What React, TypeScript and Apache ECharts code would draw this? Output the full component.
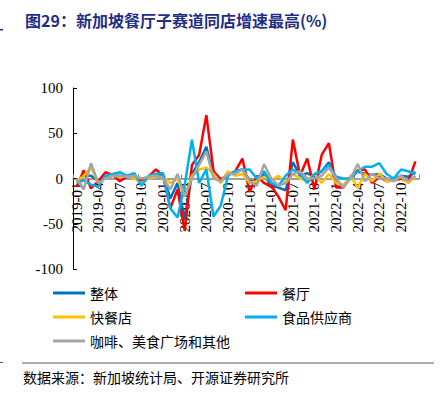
import React, { useEffect, useRef } from "react";
import * as echarts from "echarts";

const months = [
  "2019-01","2019-02","2019-03","2019-04","2019-05","2019-06","2019-07","2019-08","2019-09","2019-10","2019-11","2019-12",
  "2020-01","2020-02","2020-03","2020-04","2020-05","2020-06","2020-07","2020-08","2020-09","2020-10","2020-11","2020-12",
  "2021-01","2021-02","2021-03","2021-04","2021-05","2021-06","2021-07","2021-08","2021-09","2021-10","2021-11","2021-12",
  "2022-01","2022-02","2022-03","2022-04","2022-05","2022-06","2022-07","2022-08","2022-09","2022-10","2022-11","2022-12",
];

const overall = [-3, 3, 3, -3, 2, 3, 3, 2, 3, -2, 2, 4, 3, -22, -5, -45, 5, 18, 35, 3, -3, 4, 8, 10, -2, -5, 5, -8, -10, -13, 18, 3, 6, 2, 8, 18, -3, -8, 2, 8, 5, 4, 5, 0, -2, 3, 2, 7];
const restaurant = [-9, 9, -11, -3, 7, 4, -3, 2, 3, -3, 2, 10, 3, -33, -12, -58, 15, 26, 70, 8, -1, 4, 8, 22, -15, 3, -5, -8, -20, -35, 43, 3, 22, -12, 26, 39, -10, -10, 2, 9, 10, -5, 2, -3, -2, 0, -4, 19];
const fastFood = [-3, 3, 12, -5, 0, 3, 2, 3, 0, -5, 0, 2, 2, -5, 0, -20, 3, 10, 12, 5, -5, 8, 3, 5, -5, -3, 2, -2, 3, -5, 5, 0, -3, 5, -5, 5, -5, -8, 3, -10, 5, -3, 5, -3, -2, 2, -5, 2];
const foodCaterer = [-5, -2, -7, -9, 3, 5, 7, 3, 6, -8, 3, 5, 6, -33, -43, -7, 43, -5, 10, -42, -30, 3, 8, 10, 10, 0, 8, -5, -8, 3, 10, 5, -5, 5, 8, 15, 2, 0, 0, 8, 13, 13, 17, 5, 0, 10, 8, 5];
const cafeOthers = [0, -12, 17, -5, 0, 3, 3, 2, 3, 0, 2, 3, 0, -12, 5, -20, 0, 15, 30, 0, -3, 5, 5, 10, -3, -8, 16, 0, -8, -5, 5, 8, 0, 0, 3, 12, 0, -10, 0, 16, -3, 5, 0, 0, -3, 3, -3, 3];

const seriesNames = ["整体", "餐厅", "快餐店", "食品供应商", "咖啡、美食广场和其他"];
const seriesColors = ["#0070C0", "#FF0000", "#FFC000", "#00B0F0", "#A5A5A5"];
const seriesData = [overall, restaurant, fastFood, foodCaterer, cafeOthers];

const yTicks = { min: -100, max: 100, interval: 50 };

const title = "图29：新加坡餐厅子赛道同店增速最高(%)";
const source = "数据来源：新加坡统计局、开源证券研究所";

const serif = "'Liberation Serif', 'Times New Roman', serif";
const cjk = "'Noto Sans CJK SC', 'Liberation Serif', sans-serif";

const GRID_TOP = 88;
const GRID_BOTTOM = 127;
const GRID_H = 396 - GRID_TOP - GRID_BOTTOM;

export default function App() {
  const ref = useRef<HTMLDivElement>(null);
  useEffect(() => {
    if (!ref.current) return;
    const chart = echarts.init(ref.current, undefined, { renderer: "svg" });
    const legendCommon = {
      orient: "vertical" as const,
      icon: "rect",
      itemWidth: 32,
      itemHeight: 3,
      itemGap: 10,
      textStyle: { fontFamily: cjk, fontSize: 14, color: "#000", lineHeight: 14 },
    };
    chart.setOption({
      animation: false,
      backgroundColor: "#fff",
      grid: { left: 73, right: 26, top: GRID_TOP, bottom: GRID_BOTTOM, containLabel: false },
      legend: [
        { ...legendCommon, left: 48, top: 281, data: [seriesNames[0], seriesNames[2], seriesNames[4]] },
        { ...legendCommon, left: 240, top: 281, data: [seriesNames[1], seriesNames[3]] },
      ],
      xAxis: {
        type: "category",
        data: months,
        boundaryGap: true,
        offset: -GRID_H * (yTicks.max / (yTicks.max - yTicks.min)),
        axisLine: { onZero: false, lineStyle: { color: "#808080", width: 1.5 } },
        axisTick: { show: true, inside: true, length: 4, interval: 2, lineStyle: { color: "#808080" } },
        axisLabel: {
          interval: 2,
          rotate: 90,
          fontFamily: serif,
          fontSize: 15,
          color: "#000",
          margin: 4,
        },
        splitLine: { show: false },
      },
      yAxis: {
        type: "value",
        min: yTicks.min,
        max: yTicks.max,
        interval: yTicks.interval,
        axisLine: { show: true, lineStyle: { color: "#000", width: 1 } },
        axisTick: { show: true, inside: true, length: 4, lineStyle: { color: "#000" } },
        axisLabel: { fontFamily: serif, fontSize: 15, color: "#000", margin: 10 },
        splitLine: { show: false },
      },
      series: seriesNames.map((name, i) => ({
        name,
        type: "line",
        data: seriesData[i],
        symbol: "none",
        lineStyle: { color: seriesColors[i], width: 2.5 },
        itemStyle: { color: seriesColors[i] },
      })),
      graphic: [
        {
          type: "text",
          left: 25,
          top: 12,
          style: { text: title, fontFamily: cjk, fontSize: 16, fontWeight: "bold", fill: "#1F2D86" },
        },
        { type: "rect", shape: { x: 0, y: 29, width: 3, height: 1.5 }, style: { fill: "#1F2D86" } },
        { type: "line", shape: { x1: 22, y1: 363, x2: 434, y2: 363 }, style: { stroke: "#595959", lineWidth: 1 } },
        { type: "rect", shape: { x: 0, y: 362, width: 3, height: 1 }, style: { fill: "#595959" } },
        {
          type: "text",
          left: 23,
          top: 370,
          style: { text: source, fontFamily: cjk, fontSize: 14, fill: "#000" },
        },
      ],
    });
    return () => chart.dispose();
  }, []);
  return <div ref={ref} style={{ position: "fixed", left: 0, top: 0, width: 445, height: 396 }} />;
}
